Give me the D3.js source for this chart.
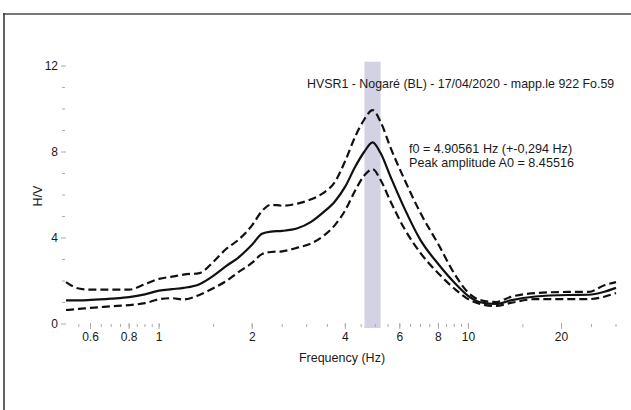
<!DOCTYPE html>
<html>
<head>
<meta charset="utf-8">
<script src="https://cdn.jsdelivr.net/npm/d3@7"></script>
<style>
  html, body { margin: 0; padding: 0; background: #fff; }
  svg { display: block; }
  text { font-family: "Liberation Sans", Arial, sans-serif; fill: #1a1a1a; }
</style>
</head>
<body>
<svg id="chart" width="631" height="410"></svg>
<script>
// ---- data ----
const freq = [0.5, 0.55, 0.6, 0.7, 0.8, 0.9, 1.0, 1.1, 1.2, 1.35, 1.5, 1.65, 1.8, 2.0, 2.15, 2.3, 2.5, 2.8, 3.1, 3.4, 3.7, 4.0, 4.3, 4.6, 4.9, 5.2, 5.6, 6.2, 7.0, 8.0, 9.0, 10, 11, 12.3, 13.7, 16.5, 21, 24.5, 27.5, 30];
const hvMean = [1.1, 1.1, 1.12, 1.18, 1.25, 1.38, 1.55, 1.62, 1.68, 1.85, 2.25, 2.7, 3.08, 3.7, 4.2, 4.3, 4.33, 4.45, 4.75, 5.2, 5.7, 6.4, 7.3, 8.0, 8.45, 7.95, 6.85, 5.4, 3.9, 2.78, 1.93, 1.3, 1.0, 0.93, 1.1, 1.28, 1.35, 1.36, 1.5, 1.68];
const hvUpper = [1.95, 1.65, 1.6, 1.6, 1.6, 1.85, 2.1, 2.2, 2.3, 2.37, 2.9, 3.5, 3.9, 4.6, 5.25, 5.55, 5.5, 5.6, 5.8, 6.1, 6.6, 7.6, 8.7, 9.5, 9.95, 9.4, 8.2, 6.75, 5.16, 3.7, 2.35, 1.45, 1.1, 1.02, 1.26, 1.44, 1.49, 1.49, 1.8, 1.95];
const hvLower = [0.65, 0.7, 0.75, 0.82, 0.88, 0.97, 1.15, 1.2, 1.14, 1.35, 1.67, 2.0, 2.4, 2.85, 3.25, 3.35, 3.38, 3.55, 3.75, 4.1, 4.6, 5.3, 6.2, 6.9, 7.2, 6.7, 5.7, 4.45, 3.3, 2.35, 1.65, 1.15, 0.92, 0.84, 0.98, 1.16, 1.16, 1.16, 1.27, 1.44];
const f0 = 4.90561, f0Err = 0.294, A0 = 8.45516;
const xTickLabels = [0.6, 0.8, 1, 2, 4, 6, 8, 10, 20];
const xMinorTicks = [0.55, 0.6, 0.65, 0.7, 0.75, 0.8, 0.85, 0.9, 0.95, 1, 1.5, 2, 2.5, 3, 3.5, 4, 4.5, 5, 5.5, 6, 6.5, 7, 7.5, 8, 8.5, 9, 9.5, 10, 15, 20, 25, 30];
const yTickLabels = [0, 4, 8, 12];
const yMinorTicks = [1, 2, 3, 5, 6, 7, 9, 10, 11];
const titleText = "HVSR1 - Nogaré (BL) - 17/04/2020 - mapp.le 922 Fo.59";
const f0Text = "f0 = 4.90561 Hz (+-0,294 Hz)";
const a0Text = "Peak amplitude A0 = 8.45516";

// ---- drawing ----
const svg = d3.select("#chart");
const x = d3.scaleLog().domain([0.5, 30]).range([66, 616]);
const y = d3.scaleLinear().domain([0, 12]).range([324, 66]);

// frame
svg.append("line").attr("x1", 3).attr("x2", 631).attr("y1", 14).attr("y2", 14)
  .attr("stroke", "#4a4a4a").attr("stroke-width", 1.6);
svg.append("line").attr("x1", 4).attr("x2", 4).attr("y1", 13).attr("y2", 410)
  .attr("stroke", "#3a3a3a").attr("stroke-width", 1.6);

// f0 band
svg.append("rect")
  .attr("x", x(f0 - f0Err)).attr("width", x(f0 + f0Err) - x(f0 - f0Err))
  .attr("y", y(12.2)).attr("height", y(0) + 4 - y(12.2))
  .attr("fill", "#d2d2e4");

// y ticks
const yAxis = svg.append("g");
yAxis.selectAll("line.minor").data(yMinorTicks).join("line")
  .attr("x1", 62).attr("x2", 65).attr("y1", d => y(d)).attr("y2", d => y(d))
  .attr("stroke", "#aaa").attr("stroke-width", 1);
yAxis.selectAll("line.major").data(yTickLabels).join("line")
  .attr("x1", 61).attr("x2", 66).attr("y1", d => y(d)).attr("y2", d => y(d))
  .attr("stroke", "#aaa").attr("stroke-width", 1);
yAxis.selectAll("text").data(yTickLabels).join("text")
  .attr("x", 58).attr("y", d => y(d)).attr("dy", "0.35em")
  .attr("text-anchor", "end").attr("font-size", 12).text(d => d);

// x ticks
const xAxis = svg.append("g");
xAxis.selectAll("line.minor").data(xMinorTicks).join("line")
  .attr("x1", d => x(d)).attr("x2", d => x(d)).attr("y1", 324).attr("y2", 327)
  .attr("stroke", "#aaa").attr("stroke-width", 1);
xAxis.selectAll("line.major").data(xTickLabels).join("line")
  .attr("x1", d => x(d)).attr("x2", d => x(d)).attr("y1", 323).attr("y2", 329)
  .attr("stroke", "#aaa").attr("stroke-width", 1);
xAxis.selectAll("text").data(xTickLabels).join("text")
  .attr("x", d => x(d)).attr("y", 341)
  .attr("text-anchor", "middle").attr("font-size", 12).text(d => d);

// axis titles
svg.append("text").attr("x", 342).attr("y", 362)
  .attr("text-anchor", "middle").attr("font-size", 12.5).text("Frequency (Hz)");
svg.append("text").attr("transform", "translate(42,196) rotate(-90)")
  .attr("text-anchor", "middle").attr("font-size", 12.5).text("H/V");

// curves
const line = (vals) => d3.line()
  .x((d, i) => x(freq[i]))
  .y(d => y(d))
  .curve(d3.curveMonotoneX)(vals);

svg.append("path").attr("d", line(hvUpper)).attr("fill", "none")
  .attr("stroke", "#111").attr("stroke-width", 2.2).attr("stroke-dasharray", "8,4");
svg.append("path").attr("d", line(hvLower)).attr("fill", "none")
  .attr("stroke", "#111").attr("stroke-width", 2.2).attr("stroke-dasharray", "8,4");
svg.append("path").attr("d", line(hvMean)).attr("fill", "none")
  .attr("stroke", "#111").attr("stroke-width", 2.2);

// annotations
svg.append("text").attr("x", 307).attr("y", 88).attr("font-size", 12.4)
  .text(titleText);
svg.append("text").attr("x", 409).attr("y", 153).attr("font-size", 12.6)
  .text(f0Text);
svg.append("text").attr("x", 409).attr("y", 167).attr("font-size", 12.6)
  .text(a0Text);
</script>
</body>
</html>
